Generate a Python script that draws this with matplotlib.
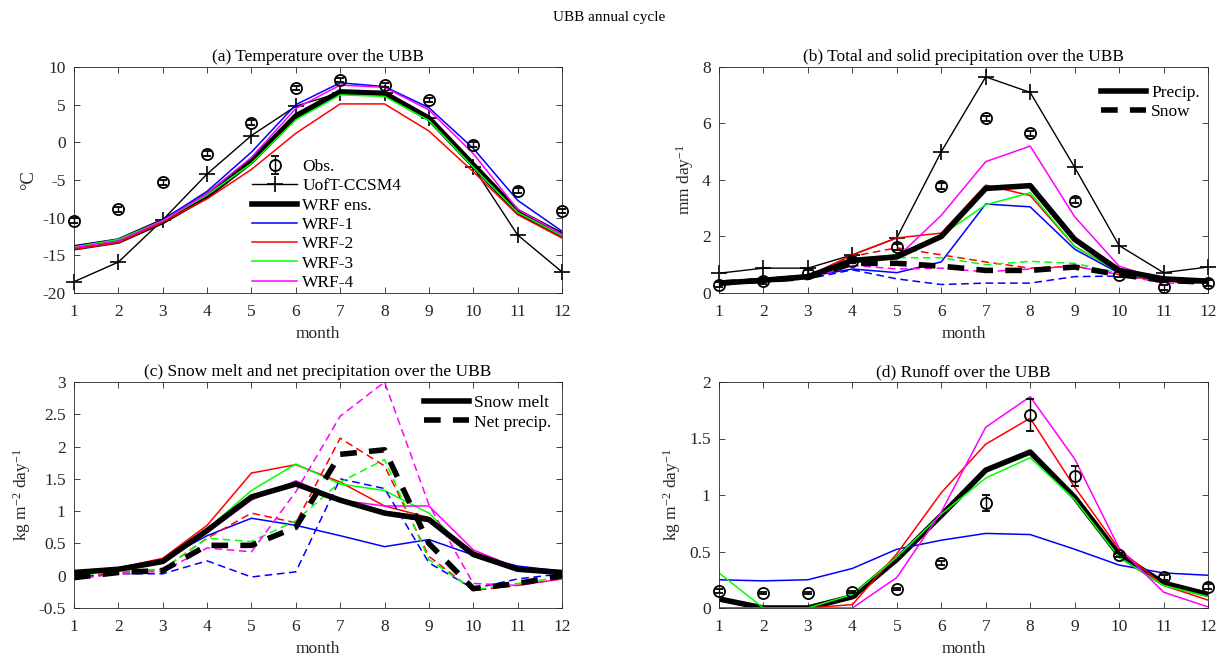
import numpy as np
import matplotlib
matplotlib.use("Agg")
import matplotlib.pyplot as plt

plt.rcParams['font.family'] = ['Liberation Serif', 'DejaVu Serif']
plt.rcParams['mathtext.fontset'] = 'custom'
plt.rcParams['mathtext.rm'] = 'Liberation Serif'
plt.rcParams['mathtext.default'] = 'regular'
plt.rcParams['axes.unicode_minus'] = False

months = np.arange(1, 13)
run_names = ["WRF-1", "WRF-2", "WRF-3", "WRF-4"]
run_colors = ["#0000ff", "#ff0000", "#00ff00", "#ff00ff"]

# (a) temperature (degC)
t_obs = [-10.4, -8.9, -5.3, -1.5, 2.6, 7.2, 8.3, 7.6, 5.6, -0.3, -6.4, -9.1]
t_obs_err = [0.3] * 12
t_ccsm = [-18.5, -15.9, -10.3, -4.2, 0.9, 4.8, 6.6, 6.5, 3.2, -3.3, -12.3, -17.2]
t_ens = [-14.0, -13.1, -10.5, -7.1, -2.5, 3.5, 6.7, 6.5, 3.2, -3.0, -9.2, -12.3]
t_wrf1 = [-13.8, -12.9, -10.3, -6.5, -1.3, 5.0, 7.9, 7.4, 4.6, -0.8, -7.7, -11.8]
t_wrf2 = [-14.2, -13.3, -10.6, -7.5, -3.6, 1.2, 5.1, 5.1, 1.5, -3.9, -9.6, -12.7]
t_wrf3 = [-13.9, -12.9, -10.4, -7.0, -2.8, 3.0, 6.3, 6.1, 2.9, -3.3, -9.3, -12.4]
t_wrf4 = [-14.0, -13.1, -10.4, -6.8, -2.0, 4.5, 7.6, 7.3, 4.3, -1.5, -8.9, -12.2]

# (b) total and solid precipitation (mm/day)
p_obs = [0.3, 0.42, 0.7, 1.15, 1.62, 3.78, 6.18, 5.65, 3.27, 0.65, 0.2, 0.35]
p_obs_err = [0.1] * 12
p_ccsm = [0.7, 0.88, 0.88, 1.35, 1.95, 5.0, 7.65, 7.1, 4.45, 1.68, 0.72, 0.92]
p_ens = [0.35, 0.45, 0.58, 1.15, 1.28, 2.0, 3.7, 3.8, 1.9, 0.8, 0.5, 0.42]
p_wrf1 = [0.38, 0.48, 0.58, 0.85, 0.72, 1.1, 3.15, 3.05, 1.55, 0.7, 0.55, 0.45]
p_wrf2 = [0.35, 0.45, 0.6, 1.35, 1.95, 2.12, 3.82, 3.45, 1.65, 0.75, 0.5, 0.4]
p_wrf3 = [0.4, 0.5, 0.62, 1.2, 1.35, 2.05, 3.12, 3.55, 1.65, 0.75, 0.48, 0.42]
p_wrf4 = [0.3, 0.42, 0.55, 1.1, 1.25, 2.75, 4.65, 5.2, 2.7, 0.95, 0.45, 0.4]
s_ens = [0.35, 0.45, 0.55, 1.05, 1.05, 0.95, 0.8, 0.8, 0.92, 0.65, 0.45, 0.38]
s_wrf1 = [0.35, 0.45, 0.5, 0.82, 0.5, 0.3, 0.35, 0.35, 0.58, 0.6, 0.45, 0.38]
s_wrf2 = [0.35, 0.45, 0.58, 1.3, 1.6, 1.35, 1.1, 0.88, 0.95, 0.65, 0.4, 0.35]
s_wrf3 = [0.38, 0.48, 0.6, 1.25, 1.25, 1.25, 1.0, 1.12, 1.05, 0.7, 0.45, 0.4]
s_wrf4 = [0.3, 0.4, 0.5, 0.98, 0.85, 0.88, 0.75, 0.85, 0.95, 0.65, 0.35, 0.35]

# (c) snow melt and net precipitation (kg m-2 day-1)
m_ens = [0.05, 0.1, 0.22, 0.7, 1.22, 1.42, 1.17, 0.97, 0.87, 0.33, 0.1, 0.05]
m_wrf1 = [0.05, 0.1, 0.25, 0.62, 0.89, 0.78, 0.62, 0.45, 0.56, 0.32, 0.15, 0.07]
m_wrf2 = [0.05, 0.12, 0.27, 0.78, 1.59, 1.72, 1.45, 1.08, 0.9, 0.37, 0.12, 0.05]
m_wrf3 = [0.03, 0.1, 0.22, 0.72, 1.32, 1.73, 1.42, 1.32, 0.97, 0.3, 0.08, 0.05]
m_wrf4 = [0.05, 0.1, 0.22, 0.67, 1.17, 1.47, 1.17, 1.08, 1.08, 0.4, 0.12, 0.05]
n_ens = [-0.03, 0.05, 0.08, 0.47, 0.47, 0.75, 1.88, 1.95, 0.5, -0.2, -0.12, 0.0]
n_wrf1 = [-0.02, 0.03, 0.03, 0.23, -0.02, 0.06, 1.5, 1.35, 0.2, -0.2, -0.05, 0.03]
n_wrf2 = [-0.05, 0.05, 0.1, 0.58, 0.97, 0.82, 2.13, 1.7, 0.3, -0.23, -0.15, -0.05]
n_wrf3 = [0.0, 0.07, 0.1, 0.58, 0.53, 0.85, 1.45, 1.8, 0.25, -0.22, -0.12, -0.02]
n_wrf4 = [-0.05, 0.03, 0.07, 0.43, 0.37, 1.3, 2.47, 3.0, 1.1, -0.12, -0.15, -0.05]

# (d) runoff (kg m-2 day-1)
r_obs = [0.15, 0.13, 0.13, 0.14, 0.17, 0.4, 0.93, 1.71, 1.17, 0.47, 0.27, 0.19]
r_obs_err = [0.02, 0.01, 0.01, 0.01, 0.01, 0.02, 0.07, 0.14, 0.09, 0.02, 0.02, 0.02]
r_ens = [0.08, 0.0, 0.0, 0.1, 0.43, 0.82, 1.22, 1.38, 0.98, 0.47, 0.22, 0.12]
r_wrf1 = [0.25, 0.24, 0.25, 0.35, 0.52, 0.6, 0.66, 0.65, 0.52, 0.38, 0.31, 0.29]
r_wrf2 = [0.0, 0.0, 0.0, 0.03, 0.48, 1.02, 1.45, 1.68, 1.07, 0.52, 0.2, 0.07]
r_wrf3 = [0.31, 0.0, 0.0, 0.12, 0.45, 0.83, 1.15, 1.33, 0.96, 0.45, 0.2, 0.1]
r_wrf4 = [0.0, 0.0, 0.0, 0.0, 0.27, 0.85, 1.6, 1.87, 1.32, 0.53, 0.14, 0.01]

grey = "#262626"
fs = 12.5

fig = plt.figure(figsize=(12.19, 6.59), dpi=100)
W, H = 1219, 659


def make_ax(l, r, t, b):
    ax = fig.add_axes([l / W, 1 - b / H, (r - l) / W, (b - t) / H])
    for s in ax.spines.values():
        s.set_color(grey)
        s.set_linewidth(0.6)
    ax.tick_params(direction="in", top=True, right=True, length=4, width=0.6,
                   colors=grey, labelsize=fs, pad=6)
    ax.tick_params(axis="x", pad=8)
    ax.set_xlim(1, 12)
    ax.set_xticks(months)
    ax.set_xlabel("month", fontsize=fs, color=grey)
    return ax


def obs(ax, y, err):
    h = ax.errorbar(months, y, yerr=err, fmt="o", mfc="none", mec="k",
                    ecolor="k", ms=8, mew=1.3, capsize=3, elinewidth=1.0,
                    label="Obs.", zorder=5)
    for art in h.lines[0:1] + tuple(h.lines[1]) + tuple(h.lines[2]):
        art.set_clip_on(False)
    return h


leg_kw = dict(loc="upper left", frameon=False, fontsize=fs, borderpad=0,
              borderaxespad=0, handlelength=2.6, handletextpad=0.3,
              labelspacing=0.18)

# (a)
ax = make_ax(74, 562, 67, 293)
ho = obs(ax, t_obs, t_obs_err)
hc, = ax.plot(months, t_ccsm, "k-", marker="+", ms=11, mew=1.2, lw=1,
              label="UofT-CCSM4", clip_on=False)
he, = ax.plot(months, t_ens, "k-", lw=4, label="WRF ens.")
hr = []
for y, c, n in zip([t_wrf1, t_wrf2, t_wrf3, t_wrf4], run_colors, run_names):
    h, = ax.plot(months, y, color=c, lw=1.1, label=n)
    hr.append(h)
ax.set_ylim(-20, 10)
ax.set_yticks(np.arange(-20, 11, 5))
ax.set_ylabel("°C", fontsize=fs + 1, color=grey)
ax.set_title("(a) Temperature over the UBB", fontsize=fs, pad=4)
ax.legend(handles=[ho, hc, he] + hr, bbox_to_anchor=(0.365, 0.593), **leg_kw)

# (b)
ax = make_ax(719, 1208, 67, 293)
obs(ax, p_obs, p_obs_err)
ax.plot(months, p_ccsm, "k-", marker="+", ms=11, mew=1.2, lw=1, clip_on=False)
for y, c in zip([p_wrf1, p_wrf2, p_wrf3, p_wrf4], run_colors):
    ax.plot(months, y, color=c, lw=1.1)
for y, c in zip([s_wrf1, s_wrf2, s_wrf3, s_wrf4], run_colors):
    ax.plot(months, y, color=c, lw=1.1, ls=(0, (5, 3)))
hp, = ax.plot(months, p_ens, "k-", lw=4, label="Precip.")
hs, = ax.plot(months, s_ens, "k-", lw=4, ls=(0, (3, 2.2)), label="Snow")
ax.set_ylim(0, 8)
ax.set_yticks(np.arange(0, 9, 2))
ax.set_ylabel("mm day$^{-1}$", fontsize=fs, color=grey)
ax.set_title("(b) Total and solid precipitation over the UBB", fontsize=fs, pad=4)
ax.legend(handles=[hp, hs], bbox_to_anchor=(0.781, 0.922), **leg_kw)

# (c)
ax = make_ax(74, 562, 382, 608)
for y, c in zip([m_wrf1, m_wrf2, m_wrf3, m_wrf4], run_colors):
    ax.plot(months, y, color=c, lw=1.1)
for y, c in zip([n_wrf1, n_wrf2, n_wrf3, n_wrf4], run_colors):
    ax.plot(months, y, color=c, lw=1.1, ls=(0, (5, 3)))
hm, = ax.plot(months, m_ens, "k-", lw=4, label="Snow melt")
hn, = ax.plot(months, n_ens, "k-", lw=4, ls=(0, (3, 2.2)), label="Net precip.")
ax.set_ylim(-0.5, 3)
ax.set_yticks(np.arange(-0.5, 3.01, 0.5))
ax.set_yticklabels(["-0.5", "0", "0.5", "1", "1.5", "2", "2.5", "3"])
ax.set_ylabel("kg m$^{-2}$ day$^{-1}$", fontsize=fs, color=grey)
ax.set_title("(c) Snow melt and net precipitation over the UBB", fontsize=fs, pad=4)
ax.legend(handles=[hm, hn], bbox_to_anchor=(0.717, 0.942), **leg_kw)

# (d)
ax = make_ax(719, 1208, 382, 608)
obs(ax, r_obs, r_obs_err)
ax.plot(months, r_ens, "k-", lw=4)
for y, c in zip([r_wrf1, r_wrf2, r_wrf3, r_wrf4], run_colors):
    ax.plot(months, y, color=c, lw=1.1)
ax.set_ylim(0, 2)
ax.set_yticks(np.arange(0, 2.01, 0.5))
ax.set_yticklabels(["0", "0.5", "1", "1.5", "2"])
ax.set_ylabel("kg m$^{-2}$ day$^{-1}$", fontsize=fs, color=grey)
ax.set_title("(d) Runoff over the UBB", fontsize=fs, pad=4)

fig.text(0.5, 1 - 18 / H, "UBB annual cycle", ha="center", va="center", fontsize=11)

fig.savefig("out.png", dpi=100)
